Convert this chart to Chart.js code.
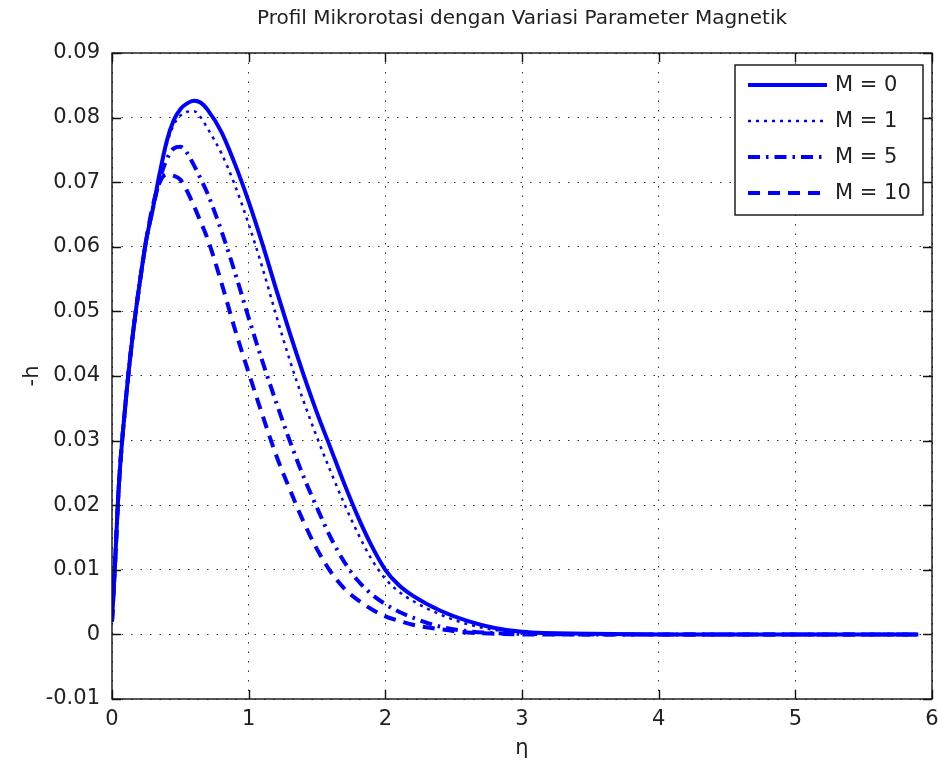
<!DOCTYPE html>
<html>
<head>
<meta charset="utf-8">
<title>Profil Mikrorotasi</title>
<script src="https://cdn.jsdelivr.net/npm/chart.js@4.4.1/dist/chart.umd.min.js"></script>
<style>
  html, body { margin: 0; padding: 0; background: #fff; }
  #wrap { width: 938px; height: 767px; }
</style>
</head>
<body>
<div id="wrap"><canvas id="chart" width="938" height="767"></canvas></div>
<script>
// similarity variable eta and microrotation -h for each magnetic parameter M
const eta = [0, 0.02, 0.05, 0.1, 0.15, 0.2, 0.25, 0.3, 0.35, 0.4,
             0.45, 0.5, 0.55, 0.6, 0.65, 0.7, 0.8, 0.9, 1.0, 1.1,
             1.2, 1.3, 1.4, 1.5, 1.6, 1.7, 1.8, 1.9, 2.0, 2.1,
             2.2, 2.4, 2.6, 2.8, 3.0, 3.5, 4.0, 4.5, 5.0, 5.5,
             5.9];

const hM0 = [0.002, 0.010, 0.023, 0.036, 0.046, 0.054, 0.061, 0.066, 0.0715, 0.0763,
             0.0795, 0.0813, 0.0822, 0.0826, 0.0823, 0.0812, 0.0778, 0.0728, 0.067, 0.0605,
             0.0535, 0.0467, 0.0403, 0.0343, 0.0288, 0.0233, 0.0182, 0.0137, 0.0100, 0.0076,
             0.0060, 0.0037, 0.0021, 0.0010, 0.0004, 0.0001, 0, 0, 0, 0,
             0];

const hM1 = [0.002, 0.010, 0.023, 0.036, 0.046, 0.054, 0.061, 0.066, 0.0713, 0.0758,
             0.0788, 0.0803, 0.0809, 0.0810, 0.0800, 0.0783, 0.0745, 0.0695, 0.0635, 0.0568,
             0.0495, 0.0425, 0.0362, 0.0305, 0.0252, 0.0202, 0.0156, 0.0116, 0.0086, 0.0066,
             0.0052, 0.0031, 0.0016, 0.0007, 0.0003, 0.0001, 0, 0, 0, 0,
             0];

const hM5 = [0.002, 0.010, 0.023, 0.036, 0.046, 0.054, 0.061, 0.066, 0.0705, 0.0735,
             0.0752, 0.0755, 0.0745, 0.0726, 0.0705, 0.0682, 0.0625, 0.0560, 0.0490, 0.0423,
             0.0360, 0.0300, 0.0245, 0.0196, 0.0150, 0.0112, 0.0083, 0.0062, 0.0047, 0.0035,
             0.0026, 0.0012, 0.0005, 0.0002, 0.0001, 0, 0, 0, 0, 0,
             0];

const hM10 = [0.002, 0.010, 0.023, 0.036, 0.046, 0.054, 0.061, 0.0665, 0.0700, 0.0712,
              0.0710, 0.0704, 0.0686, 0.0663, 0.0638, 0.0612, 0.0545, 0.0472, 0.0405, 0.0340,
              0.0278, 0.0225, 0.0175, 0.0132, 0.0097, 0.0071, 0.0053, 0.0039, 0.0028, 0.0021,
              0.0015, 0.0008, 0.0003, 0.0001, 0, 0, 0, 0, 0, 0,
              0];

const seriesLabels = ['M = 0', 'M = 1', 'M = 5', 'M = 10'];
const xTicks = [0, 1, 2, 3, 4, 5, 6];
const yTicks = [-0.01, 0, 0.01, 0.02, 0.03, 0.04, 0.05, 0.06, 0.07, 0.08, 0.09];

const FONT = 'DejaVu Sans';
const BLUE = '#0000ff';
const TICK_LEN = 9;

Chart.defaults.font.family = FONT;
Chart.defaults.color = '#222';

function points(ys) {
    return eta.map((x, i) => ({ x: x, y: ys[i] }));
}

function lineSet(label, ys, width, dash) {
    return {
        label: label,
        data: points(ys),
        borderColor: BLUE,
        backgroundColor: BLUE,
        borderWidth: width,
        borderDash: dash,
        pointRadius: 0,
        fill: false,
        cubicInterpolationMode: 'monotone'
    };
}

// box around the axes with inward ticks, plus the legend in the top right corner
const axesBox = {
    id: 'axesBox',
    afterDatasetsDraw(chart) {
        const { ctx, chartArea: a, scales: { x, y } } = chart;
        ctx.save();
        ctx.strokeStyle = '#111';
        ctx.lineWidth = 1.4;
        ctx.setLineDash([]);
        ctx.strokeRect(a.left, a.top, a.right - a.left, a.bottom - a.top);
        ctx.beginPath();
        x.ticks.forEach(t => {
            const px = Math.round(x.getPixelForValue(t.value)) + 0.5;
            ctx.moveTo(px, a.bottom); ctx.lineTo(px, a.bottom - TICK_LEN);
            ctx.moveTo(px, a.top); ctx.lineTo(px, a.top + TICK_LEN);
        });
        y.ticks.forEach(t => {
            const py = Math.round(y.getPixelForValue(t.value)) + 0.5;
            ctx.moveTo(a.left, py); ctx.lineTo(a.left + TICK_LEN, py);
            ctx.moveTo(a.right, py); ctx.lineTo(a.right - TICK_LEN, py);
        });
        ctx.stroke();
        ctx.restore();
    },
    afterDraw(chart) {
        const { ctx, chartArea: a } = chart;
        const boxW = 188, boxH = 150;
        const bx = a.right - 9 - boxW, by = a.top + 12;
        ctx.save();
        ctx.fillStyle = '#fff';
        ctx.fillRect(bx, by, boxW, boxH);
        ctx.strokeStyle = '#111';
        ctx.lineWidth = 1.4;
        ctx.strokeRect(bx, by, boxW, boxH);
        ctx.font = '21px "' + FONT + '"';
        ctx.textBaseline = 'middle';
        ctx.textAlign = 'left';
        chart.data.datasets.forEach((ds, i) => {
            const ry = by + 20 + i * 36;
            ctx.strokeStyle = ds.borderColor;
            ctx.lineWidth = ds.borderWidth;
            ctx.setLineDash(ds.borderDash || []);
            ctx.beginPath();
            ctx.moveTo(bx + 13, ry);
            ctx.lineTo(bx + 92, ry);
            ctx.stroke();
            ctx.setLineDash([]);
            ctx.fillStyle = '#222';
            ctx.fillText(ds.label, bx + 100, ry + 1);
        });
        ctx.restore();
    }
};

const ctx = document.getElementById('chart').getContext('2d');
const chart = new Chart(ctx, {
    type: 'line',
    data: {
        datasets: [
            lineSet(seriesLabels[0], hM0, 4, []),
            lineSet(seriesLabels[1], hM1, 2.5, [3, 5]),
            lineSet(seriesLabels[2], hM5, 4, [12, 6, 2.5, 6]),
            lineSet(seriesLabels[3], hM10, 4, [12, 8])
        ]
    },
    options: {
        responsive: false,
        animation: false,
        layout: { padding: 0 },
        plugins: {
            legend: { display: false },
            tooltip: { enabled: false },
            title: {
                display: true,
                fullSize: false,
                text: 'Profil Mikrorotasi dengan Variasi Parameter Magnetik',
                color: '#222',
                font: { family: FONT, size: 20, weight: 'normal' },
                padding: { top: 7, bottom: 22 }
            }
        },
        scales: {
            x: {
                type: 'linear',
                min: 0,
                max: 6,
                afterBuildTicks: s => { s.ticks = xTicks.map(v => ({ value: v })); },
                afterFit: s => { s.height = 68; s.paddingLeft = 0; s.paddingRight = 6; },
                ticks: {
                    padding: 8,
                    color: '#222',
                    font: { size: 21 },
                    maxRotation: 0,
                    callback: v => String(v)
                },
                grid: { color: '#333', lineWidth: 1, drawTicks: false },
                border: { display: false, dash: [1.5, 8] },
                title: {
                    display: true,
                    text: 'η',
                    color: '#222',
                    font: { size: 21 },
                    padding: { top: 0, bottom: 6 }
                }
            },
            y: {
                type: 'linear',
                min: -0.01,
                max: 0.09,
                afterBuildTicks: s => { s.ticks = yTicks.map(v => ({ value: v })); },
                afterFit: s => { s.width = 112; },
                ticks: {
                    padding: 12,
                    color: '#222',
                    font: { size: 21 },
                    callback: v => String(Number(v.toFixed(2)))
                },
                grid: { color: '#333', lineWidth: 1, drawTicks: false },
                border: { display: false, dash: [1.5, 8] },
                title: {
                    display: true,
                    text: '-h',
                    color: '#222',
                    font: { size: 21 },
                    padding: { top: 20, bottom: 0 }
                }
            }
        }
    },
    plugins: [axesBox]
});
</script>
</body>
</html>
